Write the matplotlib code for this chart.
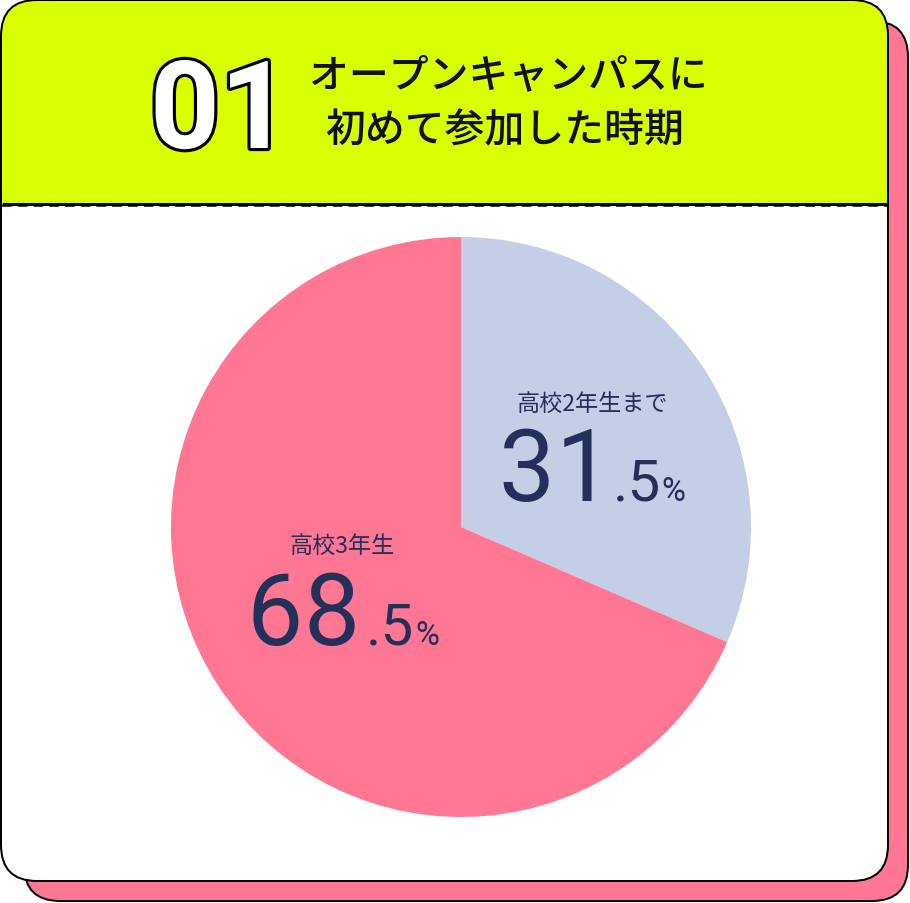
import matplotlib
matplotlib.use('Agg')
import matplotlib.pyplot as plt
import matplotlib.patheffects as pe
from matplotlib.font_manager import FontProperties
from matplotlib.textpath import TextPath
from matplotlib.patches import FancyBboxPatch, Rectangle

W, H = 910, 904
PX = 72 / 100  # points per pixel at dpi 100

# data
title_lines = ['オープンキャンパスに', '初めて参加した時期']
section_no = '01'
categories = ['高校2年生まで', '高校3年生']
shares = [31.5, 68.5]

LIME = '#D9FF00'
PINK = '#FF7793'
LAVENDER = '#C5CEE7'
NAVY = '#22305A'
JP = ['Noto Sans CJK JP', 'DejaVu Sans']
NUM = 'Roboto'

fig = plt.figure(figsize=(W / 100, H / 100), dpi=100)
bg = fig.add_axes([0, 0, 1, 1])
bg.set_xlim(0, W)
bg.set_ylim(H, 0)
bg.axis('off')

box = 'round,pad=0,rounding_size=36'
# shadow card
bg.add_patch(FancyBboxPatch((24, 22), 884, 880, boxstyle=box,
                            fc=PINK, ec='black', lw=2 * PX))
# front card
bg.add_patch(FancyBboxPatch((1, 1), 887, 881, boxstyle=box,
                            fc='white', ec='none'))
header = FancyBboxPatch((1, 1), 887, 881, boxstyle=box, fc=LIME, ec='none')
bg.add_patch(header)
clip = Rectangle((0, 0), W, 204, transform=bg.transData)
header.set_clip_path(clip)
bg.add_patch(FancyBboxPatch((1, 1), 887, 881, boxstyle=box,
                            fc='none', ec='black', lw=2 * PX))
bg.plot([2, 887], [204.5, 204.5], color='black', lw=3 * PX,
        solid_capstyle='butt')
bg.plot([2, 887], [206.5, 206.5], color='black', lw=1.5 * PX,
        dashes=(6.5, 4), solid_capstyle='butt')

# pie
cx, cy, r = 461, 528, 290
pax = fig.add_axes([(cx - r) / W, (H - cy - r) / H, 2 * r / W, 2 * r / H])
pax.pie(shares, colors=[LAVENDER, PINK], startangle=90, counterclock=False,
        radius=1, wedgeprops=dict(linewidth=0))
pax.set_xlim(-1, 1)
pax.set_ylim(-1, 1)
pax.axis('off')

# text layer
top = fig.add_axes([0, 0, 1, 1])
top.set_xlim(0, W)
top.set_ylim(H, 0)
top.axis('off')
top.patch.set_alpha(0)

top.text(508, 76, title_lines[0], ha='center', va='center', fontsize=28.7,
         family=JP, weight='medium', color='#111111')
top.text(505, 131, title_lines[1], ha='center', va='center', fontsize=28.7,
         family=JP, weight='medium', color='#111111')

top.text(220, 149, section_no, ha='center', va='baseline', fontsize=88,
         family=NUM, weight='bold', color='white',
         path_effects=[pe.withStroke(linewidth=4.5, foreground='black')])

num_prop = FontProperties(family=NUM, weight='normal')
renderer = fig.canvas.get_renderer()


def ink_x(s, size):
    # horizontal ink extent of a string, in pixels from its origin
    ext = TextPath((0, 0), s, size=size / PX, prop=num_prop).get_extents()
    return ext.x0, ext.x1


def draw_share(x0, baseline, value):
    whole, frac = f'{value:.1f}'.split('.')
    pieces = [(c, 72, 9) for c in whole]
    pieces += [('.' + frac, 42, 16), ('%', 23.5, 5)]
    left = x0
    prev_right = None
    for i, (s, size, gap) in enumerate(pieces):
        if i:
            left += gap
        a, b = ink_x(s, size)
        t = top.text(left - a, baseline, s, fontsize=size, ha='left',
                     va='baseline', color=NAVY, fontproperties=num_prop)
        bb = t.get_window_extent(renderer)
        shift = 0
        if prev_right is not None and bb.x0 < prev_right + 1:
            shift = prev_right + 1 - bb.x0
            t.set_x(left - a + shift)
        prev_right = bb.x1 + shift
        left += b - a + shift


top.text(592, 404, categories[0], ha='center', va='center', fontsize=16.7,
         family=JP, color=NAVY)
draw_share(503, 501, shares[0])
top.text(342, 546, categories[1], ha='center', va='center', fontsize=16.7,
         family=JP, color=NAVY)
draw_share(253, 645, shares[1])

fig.savefig('out.png', dpi=100)
